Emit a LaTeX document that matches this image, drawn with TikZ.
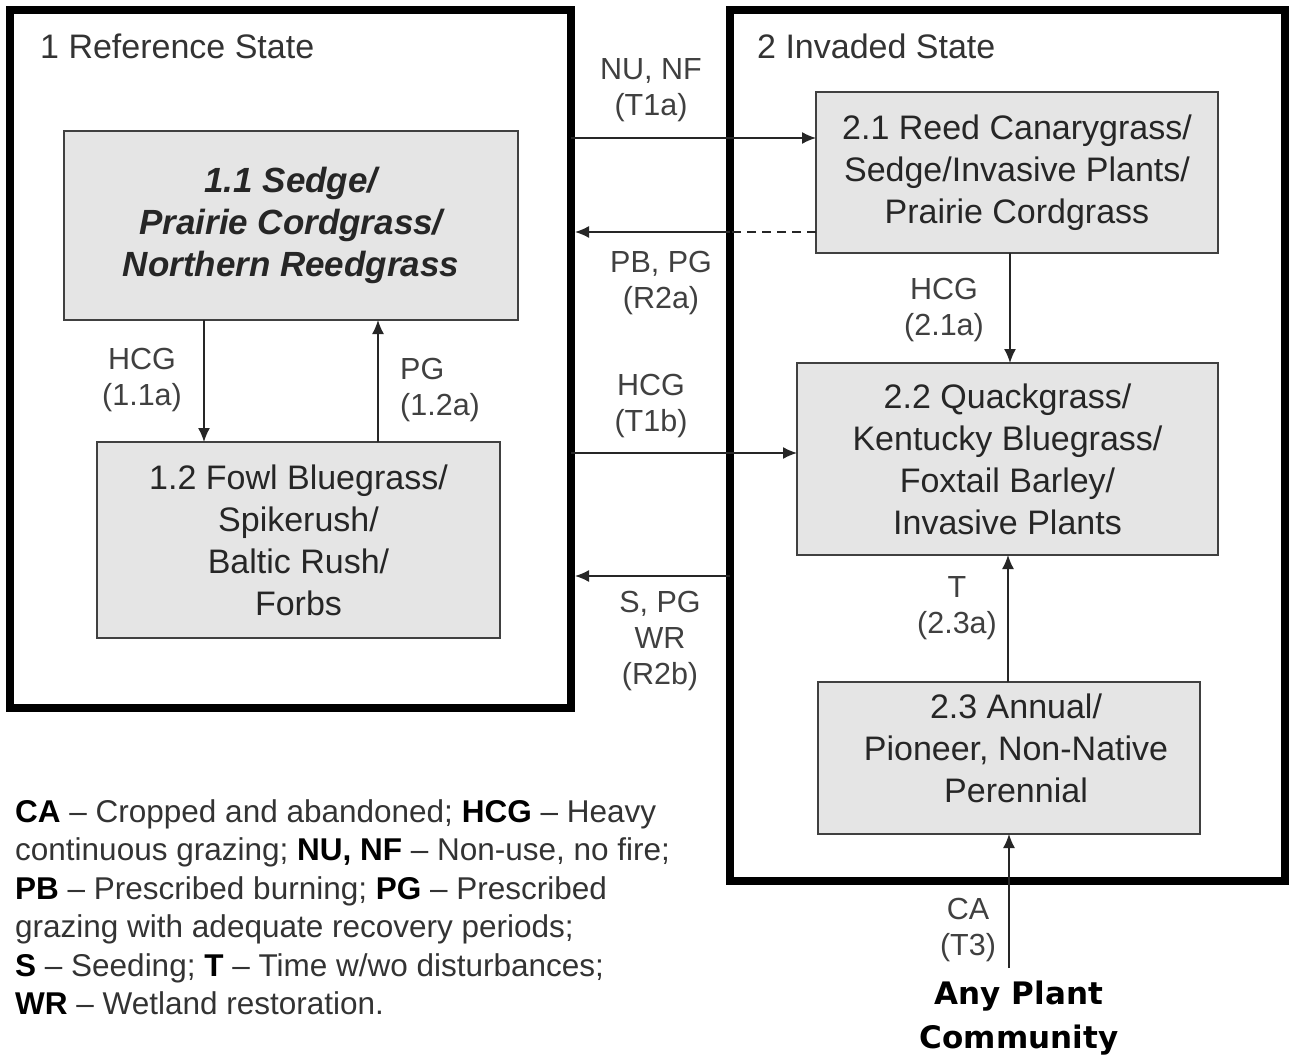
\documentclass[tikz,border=0pt]{standalone}
\usepackage{fontspec}
\setmainfont{Liberation Sans}
\newfontfamily\apcfont{DejaVu Sans}
\usetikzlibrary{arrows.meta}
\tikzset{
  statebox/.style={draw=black, line width=8pt, inner sep=0pt, outer sep=0pt},
  cbox/.style={draw=black!75, fill=black!10, line width=1.6pt, inner sep=0pt, outer sep=0pt, align=center, text=black!85,
    font=\fontsize{34}{42}\selectfont},
  lbl/.style={align=center, inner sep=0pt, text=black!75, font=\fontsize{30.5}{36}\selectfont},
  ttl/.style={anchor=west, inner sep=0pt, text=black!80, font=\fontsize{34}{40}\selectfont},
  arr/.style={line width=1.5pt, draw=black!85, -{Latex[length=14pt,width=12pt]}},
  plain/.style={line width=1.5pt, draw=black!85},
}
\begin{document}
\begin{tikzpicture}[x=1pt,y=-1pt]
\useasboundingbox (0,0) rectangle (1292,1059);
% state boxes
\node[statebox, minimum width=561pt, minimum height=698pt] (s1) at (290.5,359) {};
\node[statebox, minimum width=555pt, minimum height=871pt] (s2) at (1007.5,445.5) {};
\node[ttl] (t1) at (40,46) {1 Reference State};
\node[ttl] (t2) at (757,46) {2 Invaded State};
% community boxes
\node[cbox, minimum width=454pt, minimum height=189pt, font=\fontsize{35}{42}\selectfont] (b11) at (291,225.5)
  {\bfseries\itshape 1.1 Sedge/\\\bfseries\itshape Prairie Cordgrass/\\\bfseries\itshape Northern Reedgrass};
\node[cbox, minimum width=403pt, minimum height=196pt] (b12) at (298.5,540)
  {1.2 Fowl Bluegrass/\\Spikerush/\\Baltic Rush/\\Forbs};
\node[cbox, minimum width=402pt, minimum height=161pt] (b21) at (1017,172.5)
  {2.1 Reed Canarygrass/\\Sedge/Invasive Plants/\\Prairie Cordgrass};
\node[cbox, minimum width=421pt, minimum height=192pt] (b22) at (1007.5,459)
  {2.2 Quackgrass/\\Kentucky Bluegrass/\\Foxtail Barley/\\Invasive Plants};
\node[cbox, minimum width=382pt, minimum height=152pt] (b23) at (1009,758) {};
\node[lbl, text=black!85, font=\fontsize{34}{42}\selectfont] (t23) at (1016,748)
  {2.3 Annual/\\Pioneer, Non-Native\\Perennial};
\node[inner sep=0pt, align=center, font=\apcfont\bfseries\fontsize{31}{44}\selectfont] (apc) at (1019,1018)
  {Any Plant\\Community};
\coordinate (capt) at (1009,968);
% transitions between states
\draw[arr] (s1.east |- 0,138) -- (b21.west |- 0,138);
\draw[plain, dashed, dash pattern=on 9pt off 6pt] (b21.west |- 0,232) -- (s2.west |- 0,232);
\draw[arr] (s2.west |- 0,232) -- ([xshift=4pt]s1.east |- 0,232);
\draw[arr] (s1.east |- 0,453) -- (b22.west |- 0,453);
\draw[arr] (s2.west |- 0,576) -- ([xshift=4pt]s1.east |- 0,576);
% within state
\draw[arr] (b11.south -| 204,0) -- (b12.north -| 204,0);
\draw[arr] (b12.north -| 378,0) -- (b11.south -| 378,0);
\draw[arr] (b21.south -| 1010,0) -- (b22.north -| 1010,0);
\draw[arr] (b23.north -| 1008,0) -- (b22.south -| 1008,0);
\draw[arr] (capt) -- (b23.south -| capt);
% labels
\node[lbl] (l1) at (651,90) {NU, NF\\(T1a)};
\node[lbl] (l2) at (661,283) {PB, PG\\(R2a)};
\node[lbl] (l3) at (651,406) {HCG\\(T1b)};
\node[lbl] (l4) at (660,641) {S, PG\\WR\\(R2b)};
\node[lbl] (l5) at (142,380) {HCG\\(1.1a)};
\node[lbl, align=left, anchor=west] (l6) at (400,390) {PG\\(1.2a)};
\node[lbl] (l7) at (944,310) {HCG\\(2.1a)};
\node[lbl] (l8) at (957,608) {T\\(2.3a)};
\node[lbl] (l9) at (968,930) {CA\\(T3)};
% legend
\node[anchor=north west, inner sep=0pt, align=left, text=black!80, font=\fontsize{31.5}{38.5}\selectfont] (leg) at (15,799)
  {\textcolor{black}{\bfseries CA} -- Cropped and abandoned; \textcolor{black}{\bfseries HCG} -- Heavy\\
   continuous grazing; \textcolor{black}{\bfseries NU, NF} -- Non-use, no fire;\\
   \textcolor{black}{\bfseries PB} -- Prescribed burning; \textcolor{black}{\bfseries PG} -- Prescribed\\
   grazing with adequate recovery periods;\\
   \textcolor{black}{\bfseries S} -- Seeding; \textcolor{black}{\bfseries T} -- Time w/wo disturbances;\\
   \textcolor{black}{\bfseries WR} -- Wetland restoration.};
\end{tikzpicture}
\end{document}
